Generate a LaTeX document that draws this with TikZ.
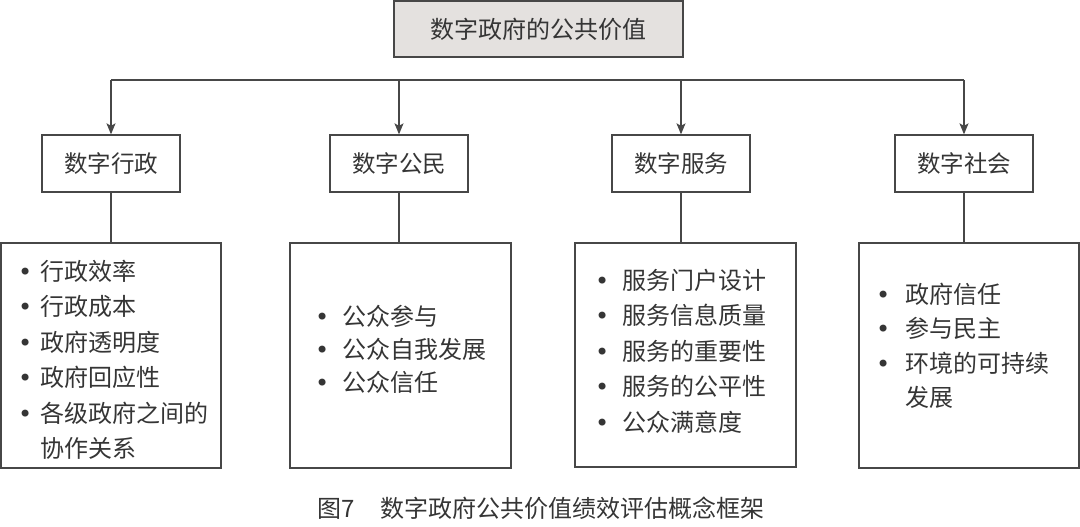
\documentclass[tikz,border=0pt]{standalone}
\usepackage{fontspec}
\setmainfont{Noto Sans CJK SC}
\newfontfamily\bulfont{DejaVu Sans}
\usetikzlibrary{arrows.meta,positioning}
\definecolor{txt}{HTML}{353535}
\definecolor{ln}{HTML}{474747}
\definecolor{topfill}{HTML}{E4E1DF}
\newcommand{\itm}[2]{\makebox[#1][l]{\bulfont •}#2}
\begin{document}
\begin{tikzpicture}[x=1pt,y=-1pt,
  every node/.style={text=txt, font=\fontsize{23.5}{35}\selectfont},
  frame/.style={draw=ln, line width=1.3pt, rectangle, inner sep=0pt},
  topbox/.style={frame, fill=topfill, minimum width=289pt, minimum height=56pt},
  midbox/.style={frame, minimum width=138pt, minimum height=57pt},
  listbox/.style={frame, minimum width=220pt, minimum height=225pt},
  listtext/.style={anchor=west, align=left, inner sep=0pt, font=\fontsize{24}{35.5}\selectfont},
  conn/.style={draw=ln, line width=1.3pt},
  arr/.style={conn, -{Stealth[length=11pt,width=9pt,inset=2.5pt]}}
]
\useasboundingbox (0,0) rectangle (1080,527);
% top
\node[topbox] (top) at (538.5,29) {\fontsize{24}{30}\selectfont 数字政府的公共价值};
% level 2
\node[midbox] (a) at (111,163.5) {数字行政};
\node[midbox] (b) at (399,163.5) {数字公民};
\node[midbox] (c) at (681,163.5) {数字服务};
\node[midbox] (d) at (964,163.5) {数字社会};
% bus line
\coordinate (ha) at (111,80);
\coordinate (hb) at (399,80);
\coordinate (hc) at (681,80);
\coordinate (hd) at (964,80);
\draw[conn] (ha) -- (hd);
\draw[arr] (ha) -- (a.north);
\draw[arr] (hb) -- (b.north);
\draw[arr] (hc) -- (c.north);
\draw[arr] (hd) -- (d.north);
% level 3
\node[listbox] (la) at (111,355.5) {};
\node[listbox, minimum width=221pt] (lb) at (400.5,355.5) {};
\node[listbox, minimum width=221pt, minimum height=224pt] (lc) at (685.5,355) {};
\node[listbox] (ld) at (969,355.5) {};
\draw[conn] (a.south) -- (a.south |- la.north);
\draw[conn] (b.south) -- (b.south |- lb.north);
\draw[conn] (c.south) -- (c.south |- lc.north);
\draw[conn] (d.south) -- (d.south |- ld.north);
% texts
\node[listtext] (ta) at (18,360) {\itm{22pt}{行政效率}\\\itm{22pt}{行政成本}\\\itm{22pt}{政府透明度}\\\itm{22pt}{政府回应性}\\\itm{22pt}{各级政府之间的}\\\hspace*{22pt}协作关系};
\node[listtext, font=\fontsize{24}{33}\selectfont] (tb) at (315,349.5) {\itm{27pt}{公众参与}\\\itm{27pt}{公众自我发展}\\\itm{27pt}{公众信任}};
\node[listtext] (tc) at (595,351) {\itm{27pt}{服务门户设计}\\\itm{27pt}{服务信息质量}\\\itm{27pt}{服务的重要性}\\\itm{27pt}{服务的公平性}\\\itm{27pt}{公众满意度}};
\node[listtext, font=\fontsize{24}{34.5}\selectfont] (td) at (876,346) {\itm{29pt}{政府信任}\\\itm{29pt}{参与民主}\\\itm{29pt}{环境的可持续}\\\hspace*{29pt}发展};
% caption
\node[anchor=west, inner sep=0pt, font=\fontsize{24}{30}\selectfont] (cap) at (317,508) {图7\hspace{26pt}数字政府公共价值绩效评估概念框架};
\end{tikzpicture}
\end{document}
